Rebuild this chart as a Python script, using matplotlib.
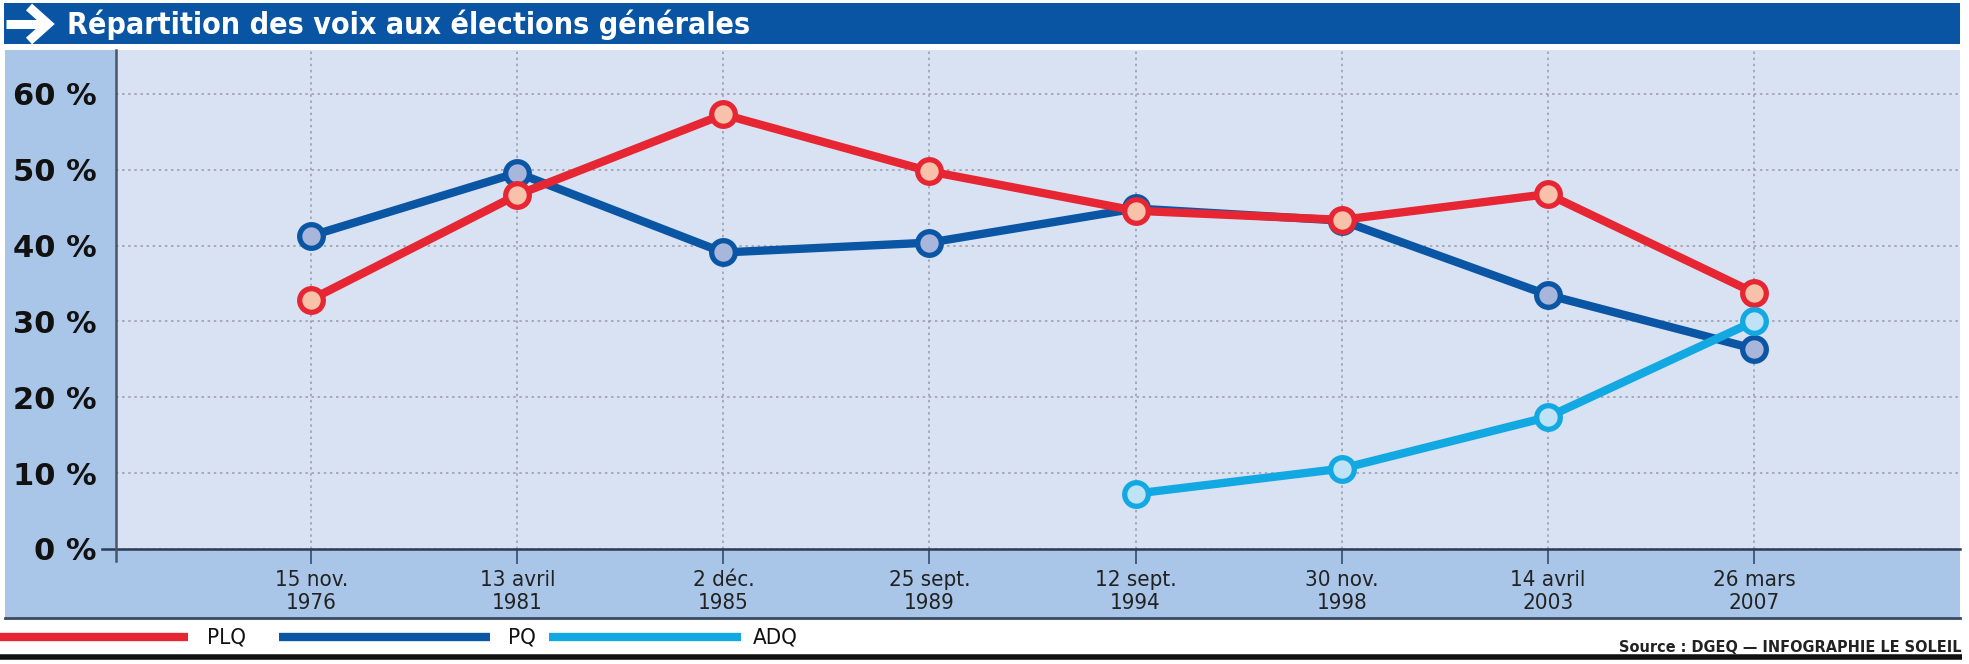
import matplotlib
matplotlib.use("Agg")
import matplotlib.pyplot as plt
from matplotlib import font_manager
from matplotlib.lines import Line2D
from matplotlib.patches import Rectangle

# ---------------- data ----------------
dates = ["15 nov.\n1976", "13 avril\n1981", "2 déc.\n1985", "25 sept.\n1989",
         "12 sept.\n1994", "30 nov.\n1998", "14 avril\n2003", "26 mars\n2007"]
plq = [32.9, 46.7, 57.3, 49.8, 44.6, 43.4, 46.8, 33.8]
pq = [41.3, 49.6, 39.1, 40.4, 44.9, 43.3, 33.5, 26.4]
adq_dates = ["12 sept.\n1994", "30 nov.\n1998", "14 avril\n2003", "26 mars\n2007"]
adq = [7.3, 10.6, 17.4, 30.0]
yticks = [0, 10, 20, 30, 40, 50, 60]
ytick_labels = ["0 %", "10 %", "20 %", "30 %", "40 %", "50 %", "60 %"]
series_names = ["PLQ", "PQ", "ADQ"]
title = "Répartition des voix aux élections générales"
source = "Source : DGEQ — INFOGRAPHIE LE SOLEIL"

# ---------------- fonts ----------------
fonts = font_manager.fontManager.ttflist
names = {f.name for f in fonts}
has_cond = any(f.name == "DejaVu Sans" and f.stretch in ("condensed", "semi-condensed", 600, 700)
               for f in fonts)
if "Liberation Sans Narrow" in names:
    narrow, stretch = "Liberation Sans Narrow", "normal"
    cond = True
elif has_cond:
    narrow, stretch = "DejaVu Sans", "condensed"
    cond = True
else:
    narrow, stretch = "DejaVu Sans", "normal"
    cond = False

W, H = 1969, 664
fig = plt.figure(figsize=(W / 100, H / 100), dpi=100)
fig.patch.set_facecolor("white")

def fx(px):
    return px / W

def fy(py):
    return 1 - py / H

# colours
RED = "#E62632"
BLUE = "#0B56A4"
CYAN = "#12A8E2"
BAND = "#A9C5E7"
PLOT_BG = "#D8E2F3"
TITLE_BG = "#0A55A3"

# title bar
fig.add_artist(Rectangle((fx(4), fy(44)), fx(1960) - fx(4), fy(3) - fy(44),
                         transform=fig.transFigure, facecolor=TITLE_BG, edgecolor="none"))
# arrow
fig.add_artist(Line2D([fx(6), fx(44)], [fy(24), fy(24)], transform=fig.transFigure,
                      color="white", lw=6.5, solid_capstyle="butt"))
fig.add_artist(Line2D([fx(29), fx(48), fx(29)], [fy(7), fy(24), fy(41)], transform=fig.transFigure,
                      color="white", lw=6.5, solid_joinstyle="miter", solid_capstyle="butt"))
fig.text(fx(67), fy(25), title, color="white", fontsize=21.8 if cond else 19.8, fontweight="bold",
         family=narrow, fontstretch=stretch, ha="left", va="center")

# background band (label areas)
fig.add_artist(Rectangle((fx(5), fy(618)), fx(1960) - fx(5), fy(50) - fy(618),
                         transform=fig.transFigure, facecolor=BAND, edgecolor="none", zorder=0))
fig.add_artist(Line2D([fx(5), fx(1960)], [fy(618), fy(618)], transform=fig.transFigure,
                      color="#3A4A66", lw=2))

# axes
ax = fig.add_axes([fx(116), fy(549), fx(1960) - fx(116), fy(50) - fy(549)])
ax.set_facecolor(PLOT_BG)
x = list(range(len(dates)))
ax.set_xlim(-0.947, 8.0)
ax.set_ylim(0, 65.8)

xa = [dates.index(d) for d in adq_dates]
lw = 6
ms = 17
mew = 3.8
ax.plot(x, pq, color=BLUE, lw=lw, marker="o", ms=ms, mfc="#A8B6DC", mec=BLUE, mew=mew,
        zorder=3, solid_joinstyle="round")
ax.plot(x, plq, color=RED, lw=lw, marker="o", ms=ms, mfc="#F8C2AA", mec=RED, mew=mew,
        zorder=4, solid_joinstyle="round")
ax.plot(xa, adq, color=CYAN, lw=lw, marker="o", ms=ms, mfc="#BFE3F6", mec=CYAN, mew=mew,
        zorder=5, solid_joinstyle="round")

ax.set_yticks(yticks)
ax.set_yticklabels(ytick_labels, fontsize=22, fontweight="bold", color="#111111")
ax.set_xticks(x)
ax.set_xticklabels(dates, fontsize=16 if cond else 15, family=narrow, fontstretch=stretch,
                   color="#222222", linespacing=1.2)
ax.tick_params(axis="y", length=0, pad=14)
ax.tick_params(axis="x", length=11, width=1.2, color="#3A4A66", pad=4, direction="out")

ax.grid(True, color="#9A9AA6", lw=1.1, ls=(0, (1.6, 2.4)), zorder=1)
ax.set_axisbelow(True)
for s in ["top", "right", "left", "bottom"]:
    ax.spines[s].set_visible(False)

# axis lines (extend slightly beyond plot)
fig.add_artist(Line2D([fx(102), fx(1960)], [fy(549), fy(549)], transform=fig.transFigure,
                      color="#2E3B55", lw=1.8, zorder=6))
fig.add_artist(Line2D([fx(116), fx(116)], [fy(50), fy(561)], transform=fig.transFigure,
                      color="#4A5568", lw=1.8, zorder=6))

# legend
leg = [(0, 188, 207, RED), (279, 490, 508, BLUE), (549, 741, 753, CYAN)]
for (x0, x1, xt, c), name in zip(leg, series_names):
    fig.add_artist(Line2D([fx(x0), fx(x1)], [fy(637), fy(637)], transform=fig.transFigure,
                          color=c, lw=6, solid_capstyle="butt"))
    fig.text(fx(xt), fy(637), name, fontsize=16 if cond else 15, family=narrow,
             fontstretch=stretch, color="#111111", ha="left", va="center")

fig.text(fx(1961), fy(647), source, fontsize=11.6 if cond else 11.5, family=narrow,
         fontstretch=stretch, fontweight="semibold", color="#222222", ha="right", va="center")
fig.add_artist(Line2D([0, fx(1962)], [fy(657), fy(657)], transform=fig.transFigure,
                      color="#111111", lw=4, solid_capstyle="butt"))

fig.savefig("out.png", dpi=100)
